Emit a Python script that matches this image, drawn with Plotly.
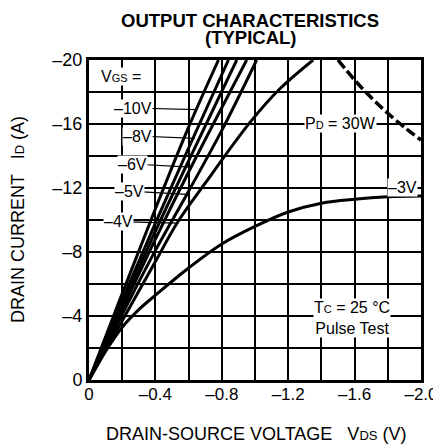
import plotly.graph_objects as go

FONT = "Liberation Sans, Arial, Helvetica, sans-serif"

# VDS (V) / ID (A) points
vds_m10 = [0, -0.2, -0.4, -0.6, -0.78]
id_m10 = [0, -5.4, -10.7, -15.8, -20]
vds_m8 = [0, -0.2, -0.4, -0.6, -0.84]
id_m8 = [0, -5.0, -9.8, -14.5, -20]
vds_m7 = [0, -0.2, -0.4, -0.6, -0.89]
id_m7 = [0, -4.7, -9.3, -13.7, -20]
vds_m6 = [0, -0.2, -0.4, -0.6, -0.95]
id_m6 = [0, -4.4, -8.8, -13.0, -20]
vds_m5 = [0, -0.2, -0.4, -0.6, -0.8, -1.01]
id_m5 = [0, -4.1, -8.1, -11.8, -15.6, -20]
vds_m4 = [0, -0.2, -0.4, -0.53, -0.7, -0.97, -1.15, -1.35]
id_m4 = [0, -3.7, -7.4, -9.8, -12.3, -16.1, -18.2, -20]
vds_m3 = [0, -0.1, -0.2, -0.3, -0.4, -0.6, -0.8, -1.0, -1.2, -1.4, -1.6, -1.8, -2.0]
id_m3 = [0, -1.8, -3.3, -4.4, -5.3, -7.0, -8.5, -9.6, -10.5, -11.05, -11.3, -11.45, -11.5]
vds_pd = [-1.5, -1.6, -1.7, -1.8, -1.9, -2.0]
id_pd = [-20, -18.75, -17.65, -16.67, -15.8, -15.0]

x_ticks = [0, -0.4, -0.8, -1.2, -1.6, -2.0]
x_labels = ["0", "–0.4", "–0.8", "–1.2", "–1.6", "–2.0"]
y_ticks = [0, -4, -8, -12, -16, -20]
y_labels = ["0", "–4", "–8", "–12", "–16", "–20"]

fig = go.Figure()
for xs, ys in [(vds_m10, id_m10), (vds_m8, id_m8), (vds_m7, id_m7), (vds_m6, id_m6),
               (vds_m5, id_m5), (vds_m4, id_m4), (vds_m3, id_m3)]:
    fig.add_trace(go.Scatter(x=xs, y=ys, mode="lines", line=dict(color="black", width=3, shape="spline"),
                             showlegend=False, hoverinfo="skip"))
fig.add_trace(go.Scatter(x=vds_pd, y=id_pd, mode="lines",
                         line=dict(color="black", width=3.5, dash="10px,4px", shape="spline"),
                         showlegend=False, hoverinfo="skip"))

def sub(s, size=11):
    return "<span style='font-size:%dpx'>%s</span>" % (size, s)

ann = []
def label(text, x, y, size=16):
    ann.append(dict(text=text, x=x, y=y, xref="x", yref="y",
                    font=dict(family=FONT, size=size, color="black"),
                    bgcolor="white", borderpad=0, showarrow=False))

# leader lines from labels to curves
leaders = [(-0.265, -17.0, -0.651, -16.9), (-0.295, -15.25, -0.639, -15.1),
           (-0.265, -13.5, -0.608, -13.3), (-0.241, -11.8, -0.590, -11.6),
           (-0.175, -9.9, -0.530, -9.8)]
for x0, y0, x1, y1 in leaders:
    fig.add_shape(type="line", x0=x0, y0=y0, x1=x1, y1=y1, line=dict(color="black", width=1.2))

label("V" + sub("GS") + " =", -0.193, -19.0)
label("–10V", -0.265, -17.0)
label("–8V", -0.295, -15.25)
label("–6V", -0.265, -13.5)
label("–5V", -0.241, -11.8)
label("–4V", -0.175, -9.9)
label("P" + sub("D") + " = 30W", -1.518, -16.06)
label("–3V", -1.886, -12.06)
label("T" + sub("C") + " = 25 °C<br>Pulse Test", -1.584, -3.87)

# titles (paper coords: x 0..1 = plot width 332px, y 0..1 = plot height 320px)
ann.append(dict(text="<b>OUTPUT CHARACTERISTICS</b>", xref="paper", yref="paper",
                x=0.485, y=1 + 40 / 320, xanchor="center", yanchor="middle", showarrow=False,
                font=dict(family=FONT, size=18.5, color="black")))
ann.append(dict(text="<b>(TYPICAL)</b>", xref="paper", yref="paper",
                x=0.485, y=1 + 22 / 320, xanchor="center", yanchor="middle", showarrow=False,
                font=dict(family=FONT, size=18.5, color="black")))
ann.append(dict(text="DRAIN-SOURCE VOLTAGE   V" + sub("DS", 13) + " (V)", xref="paper", yref="paper",
                x=0.503, y=-54 / 320, xanchor="center", yanchor="middle", showarrow=False,
                font=dict(family=FONT, size=18, color="black")))
ann.append(dict(text="DRAIN CURRENT   I" + sub("D", 13) + " (A)", xref="paper", yref="paper",
                x=-71 / 332, y=0.5, xanchor="center", yanchor="middle", showarrow=False,
                textangle=-90, font=dict(family=FONT, size=18, color="black")))
fig.update_layout(annotations=ann)

# page body has an 8px margin: figure is sized so plot area lands at x 89..421, y 60..380
fig.update_layout(
    width=433, height=437, margin=dict(l=81, r=20, t=52, b=65, autoexpand=False),
    paper_bgcolor="white", plot_bgcolor="white",
    font=dict(family=FONT, color="black"),
)
fig.update_xaxes(range=[0, -2.0], tickvals=x_ticks, ticktext=x_labels, showgrid=True,
                 gridcolor="black", gridwidth=2, zeroline=False, showline=True, linecolor="black",
                 linewidth=3, mirror=True, ticks="", tickfont=dict(size=17, family=FONT),
                 automargin=False, ticklabelstandoff=-3,
                 minor=dict(dtick=0.2, tick0=0, showgrid=True, gridcolor="black", gridwidth=2))
fig.update_yaxes(range=[0, -20], tickvals=y_ticks, ticktext=y_labels, showgrid=True,
                 gridcolor="black", gridwidth=2, zeroline=False, showline=True, linecolor="black",
                 linewidth=3, mirror=True, ticks="", tickfont=dict(size=18, family=FONT),
                 automargin=False,
                 minor=dict(dtick=2, tick0=0, showgrid=True, gridcolor="black", gridwidth=2))
fig.write_html("out.html")
